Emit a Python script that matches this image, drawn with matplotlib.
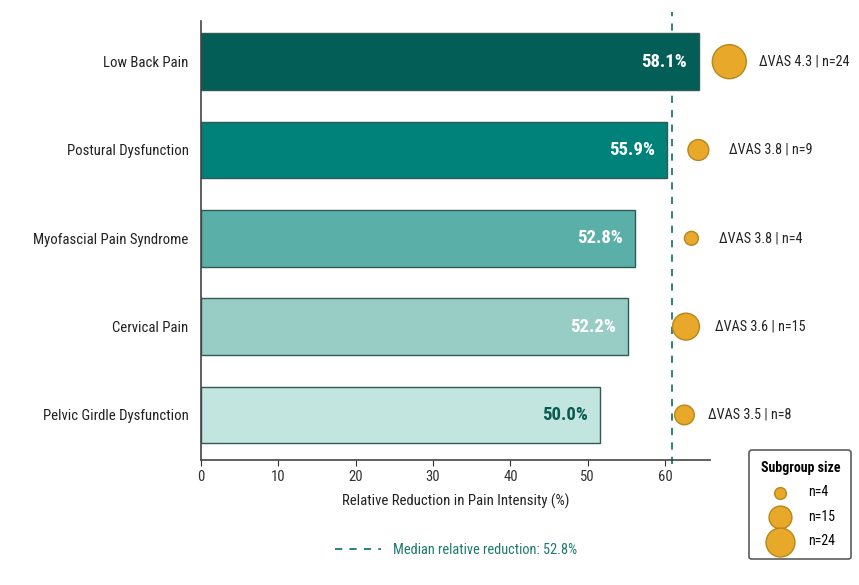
import matplotlib
matplotlib.use("Agg")
import matplotlib.pyplot as plt
from matplotlib.lines import Line2D
from matplotlib import font_manager

# data
categories = ["Low Back Pain", "Postural Dysfunction", "Myofascial Pain Syndrome",
              "Cervical Pain", "Pelvic Girdle Dysfunction"]
bar_lengths = [64.4, 60.3, 56.1, 55.2, 51.6]
pct_labels = ["58.1%", "55.9%", "52.8%", "52.2%", "50.0%"]
delta_vas = [4.3, 3.8, 3.8, 3.6, 3.5]
n_sizes = [24, 9, 4, 15, 8]
bubble_x = [68.3, 64.3, 63.4, 62.7, 62.5]
note_x = [72.1, 68.3, 67.0, 66.5, 65.5]
median_x = 60.9
median_label = "Median relative reduction: 52.8%"
legend_n = [4, 15, 24]

bar_colors = ["#045e58", "#00827a", "#5ab0a8", "#98cdc6", "#c3e5e0"]
label_colors = ["white", "white", "white", "white", "#0b5a52"]
gold = "#e8a92a"
gold_edge = "#b8861a"
teal_line = "#1d7a70"

avail = {f.name for f in font_manager.fontManager.ttflist}
for fam in ["Roboto Condensed", "Liberation Sans Narrow", "Roboto", "DejaVu Sans"]:
    if fam in avail:
        plt.rcParams["font.family"] = [fam, "DejaVu Sans"]
        break


def bubble_s(n):
    return 25 * n


fig = plt.figure(figsize=(8.59, 5.85), dpi=100)
ax = fig.add_axes([0.234, 0.2137, 0.5925, 0.7503])

ypos = list(range(len(categories)))
ax.barh(ypos, bar_lengths, height=0.64, color=bar_colors, edgecolor="#2f5a55", linewidth=1.0, zorder=2)
for y, L, lab, c in zip(ypos, bar_lengths, pct_labels, label_colors):
    ax.annotate(lab, (L, y), xytext=(-9, 0), textcoords="offset points", ha="right", va="center",
                color=c, fontsize=13.5, fontweight="bold", zorder=3)

ax.scatter(bubble_x, ypos, s=[bubble_s(n) for n in n_sizes], color=gold, edgecolor=gold_edge,
           linewidth=1.0, zorder=4, clip_on=False)
for y, x, d, n in zip(ypos, note_x, delta_vas, n_sizes):
    ax.text(x, y, f"\u0394VAS {d:.1f} | n={n}", ha="left", va="center", fontsize=10.2,
            color="#222222", clip_on=False)

ax.axvline(median_x, ymin=-0.01, ymax=1.02, color=teal_line, ls=(0, (4, 4)), lw=1.3, zorder=1, clip_on=False)

ax.set_xlim(0, 65.8)
ax.set_ylim(4.51, -0.46)
ax.set_yticks(ypos)
ax.set_yticklabels(categories, fontsize=10.6, color="#222222")
ax.set_xticks([0, 10, 20, 30, 40, 50, 60])
ax.tick_params(axis="x", labelsize=10.6, colors="#333333", length=4)
ax.tick_params(axis="y", length=0, pad=9)
ax.set_xlabel("Relative Reduction in Pain Intensity (%)", fontsize=10.6, color="#222222", labelpad=7)
for s in ["top", "right"]:
    ax.spines[s].set_visible(False)
for s in ["left", "bottom"]:
    ax.spines[s].set_color("#444444")
    ax.spines[s].set_linewidth(1.2)

# median legend below the axis
med_handle = Line2D([0], [0], color=teal_line, ls=(0, (4, 4)), lw=1.3)
leg1 = fig.legend([med_handle], [median_label], loc="center", bbox_to_anchor=(0.531, 0.06),
                  frameon=False, fontsize=10.4, handlelength=3.2)
for t in leg1.get_texts():
    t.set_color(teal_line)

# bubble size legend
handles = [ax.scatter([], [], s=bubble_s(n), color=gold, edgecolor=gold_edge, linewidth=1.0) for n in legend_n]
leg2 = fig.legend(handles, [f"n={n}" for n in legend_n], title="Subgroup size", loc="lower right",
                  bbox_to_anchor=(0.999, 0.032), fontsize=10, title_fontsize=10, frameon=True,
                  fancybox=True, edgecolor="#333333", labelspacing=0.75, borderpad=0.8,
                  handletextpad=1.0, markerscale=0.85)
leg2.get_title().set_fontweight("bold")
leg2.get_frame().set_linewidth(1.2)

fig.savefig("out.png", dpi=100, facecolor="white")
